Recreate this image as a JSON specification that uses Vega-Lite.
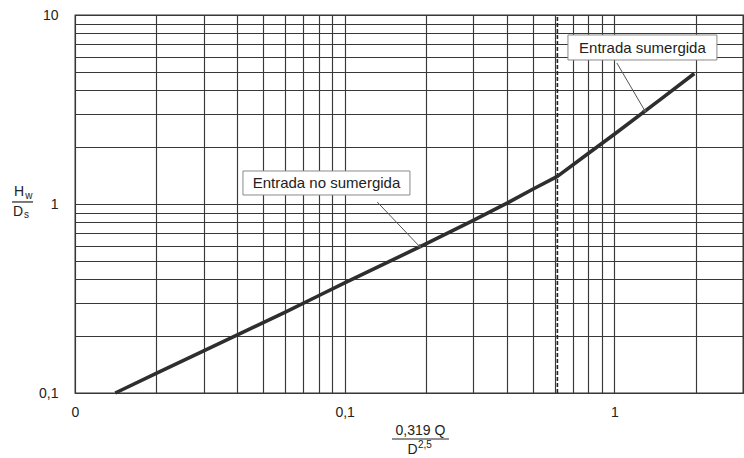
{
  "$schema": "https://vega.github.io/schema/vega-lite/v6.json",
  "width": 668,
  "height": 378,
  "autosize": {"type": "none"},
  "padding": {"left": 75, "top": 15, "right": 1, "bottom": 65},
  "background": "white",
  "config": {
    "view": {"stroke": "#333333", "strokeWidth": 1.3},
    "axis": {
      "domain": false,
      "ticks": false,
      "grid": true,
      "gridColor": "#383838",
      "gridWidth": 1.15,
      "gridOpacity": 1,
      "labelFont": "Liberation Sans",
      "labelFontSize": 14,
      "labelColor": "#222222",
      "labelOverlap": false,
      "labelFlush": false,
      "labelBound": false
    },
    "text": {"font": "Liberation Sans", "fill": "#222222"}
  },
  "datasets": {
    "curve": [
      {"x": 0.0141, "y": 0.1}, {"x": 0.02, "y": 0.127}, {"x": 0.03, "y": 0.167},
      {"x": 0.04, "y": 0.203}, {"x": 0.06, "y": 0.267}, {"x": 0.08, "y": 0.327},
      {"x": 0.1, "y": 0.382}, {"x": 0.2, "y": 0.615}, {"x": 0.3, "y": 0.82},
      {"x": 0.4, "y": 1.01}, {"x": 0.5, "y": 1.2}, {"x": 0.615, "y": 1.4},
      {"x": 0.8, "y": 1.85}, {"x": 1.0, "y": 2.34}, {"x": 1.5, "y": 3.62},
      {"x": 1.98, "y": 4.9}
    ],
    "limit": [{"x": 0.615, "y": 0.1, "y2": 10}],
    "arrows": [
      {"id": "no", "role": "start", "x": 0.132, "y": 1.025},
      {"id": "no", "role": "end", "x": 0.19, "y": 0.594},
      {"id": "sum", "role": "start", "x": 1.022, "y": 5.57},
      {"id": "sum", "role": "end", "x": 1.3, "y": 3.1}
    ],
    "boxes": [
      {"label": "Entrada no sumergida", "x": 0.04196, "x2": 0.1746, "y": 1.495, "y2": 1.116, "tx": 0.0856, "ty": 1.291},
      {"label": "Entrada sumergida", "x": 0.673, "x2": 2.401, "y": 7.84, "y2": 5.78, "tx": 1.271, "ty": 6.73}
    ],
    "titles": [
      {"t": "H", "kind": "main", "x": 0.0062, "y": 1.157},
      {"t": "w", "kind": "sub", "x": 0.00675, "y": 1.102},
      {"t": "D", "kind": "main", "x": 0.00615, "y": 0.907},
      {"t": "s", "kind": "sub", "x": 0.00661, "y": 0.875},
      {"t": "0,319 Q", "kind": "main", "x": 0.191, "y": 0.0629},
      {"t": "D", "kind": "main", "x": 0.1784, "y": 0.0502},
      {"t": "2,5", "kind": "sub", "x": 0.1985, "y": 0.0531}
    ],
    "bars": [
      {"x": 0.00584, "x2": 0.00699, "y": 1.025},
      {"x": 0.1498, "x2": 0.2436, "y": 0.0571}
    ]
  },
  "encoding": {
    "x": {
      "field": "x", "type": "quantitative",
      "scale": {"type": "log", "domain": [0.01, 3], "nice": false, "zero": false},
      "axis": {
        "title": null,
        "values": [0.01, 0.02, 0.03, 0.04, 0.05, 0.06, 0.07, 0.08, 0.09, 0.1, 0.2, 0.3, 0.4, 0.5, 0.6, 0.7, 0.8, 0.9, 1, 2, 3],
        "labelExpr": "datum.value == 0.01 ? '0' : datum.value == 0.1 ? '0,1' : datum.value == 1 ? '1' : ''",
        "labelPadding": 12
      }
    },
    "y": {
      "field": "y", "type": "quantitative",
      "scale": {"type": "log", "domain": [0.1, 10], "nice": false, "zero": false},
      "axis": {
        "title": null,
        "values": [0.1, 0.2, 0.3, 0.4, 0.5, 0.6, 0.7, 0.8, 0.9, 1, 2, 3, 4, 5, 6, 7, 8, 9, 10],
        "labelExpr": "datum.value == 10 ? '10' : datum.value == 1 ? '1' : datum.value == 0.1 ? '0,1' : ''",
        "labelPadding": 17
      }
    }
  },
  "layer": [
    {
      "data": {"name": "limit"},
      "mark": {"type": "rule", "color": "#222222", "strokeWidth": 1.6, "strokeDash": [4, 2]},
      "encoding": {"y2": {"field": "y2"}}
    },
    {
      "data": {"name": "curve"},
      "mark": {"type": "line", "color": "#2e2e2e", "strokeWidth": 3.6, "strokeJoin": "round"},
      "encoding": {}
    },
    {
      "data": {"name": "arrows"},
      "mark": {"type": "line", "color": "#555555", "strokeWidth": 1},
      "encoding": {"detail": {"field": "id"}}
    },
    {
      "data": {"name": "arrows"},
      "transform": [{"filter": "datum.role == 'end' && datum.id == 'no'"}],
      "mark": {"type": "point", "shape": "triangle-up", "size": 22, "filled": true, "color": "#555555", "angle": 137, "opacity": 1}
    },
    {
      "data": {"name": "arrows"},
      "transform": [{"filter": "datum.role == 'end' && datum.id == 'sum'"}],
      "mark": {"type": "point", "shape": "triangle-up", "size": 22, "filled": true, "color": "#555555", "angle": 150, "opacity": 1}
    },
    {
      "data": {"name": "boxes"},
      "mark": {"type": "rect", "fill": "white", "stroke": "#8a8a8a", "strokeWidth": 1},
      "encoding": {"x2": {"field": "x2"}, "y2": {"field": "y2"}}
    },
    {
      "data": {"name": "boxes"},
      "mark": {"type": "text", "fontSize": 15, "align": "center", "baseline": "middle"},
      "encoding": {
        "x": {"field": "tx", "type": "quantitative"},
        "y": {"field": "ty", "type": "quantitative"},
        "text": {"field": "label"}
      }
    },
    {
      "data": {"name": "titles"},
      "transform": [{"filter": "datum.kind == 'main'"}],
      "mark": {"type": "text", "fontSize": 14, "align": "center", "baseline": "middle"},
      "encoding": {"text": {"field": "t"}}
    },
    {
      "data": {"name": "titles"},
      "transform": [{"filter": "datum.kind == 'sub'"}],
      "mark": {"type": "text", "fontSize": 10, "align": "center", "baseline": "middle"},
      "encoding": {"text": {"field": "t"}}
    },
    {
      "data": {"name": "bars"},
      "mark": {"type": "rule", "color": "#222222", "strokeWidth": 1.2},
      "encoding": {"x2": {"field": "x2"}}
    }
  ]
}
